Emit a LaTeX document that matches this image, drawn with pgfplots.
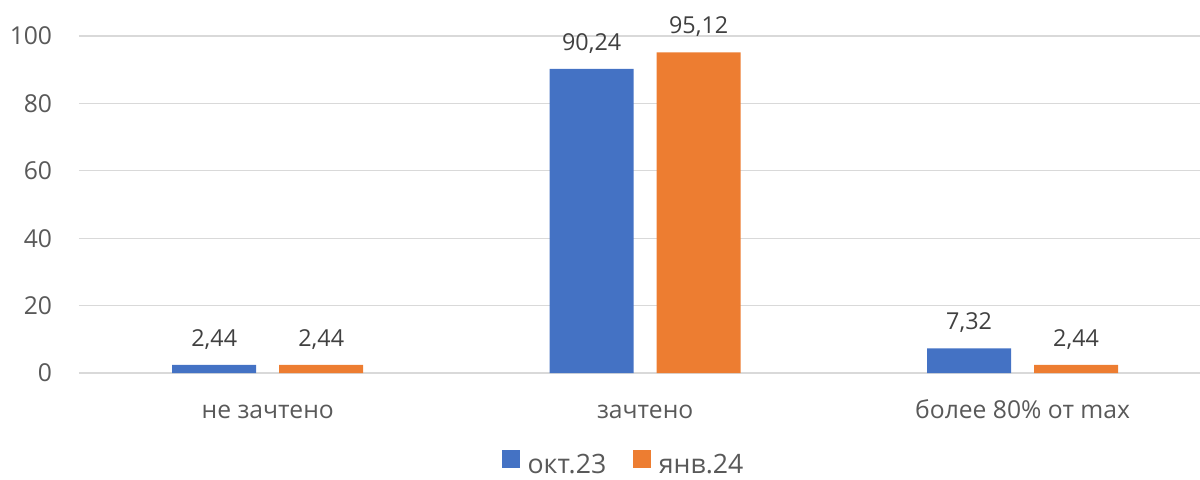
\documentclass[border=0pt]{standalone}
\usepackage{fontspec}
\setmainfont{Open Sans}
\usepackage{pgfplots}
\pgfplotsset{compat=1.18}
\definecolor{cblue}{HTML}{4472C4}
\definecolor{corange}{HTML}{ED7D31}
\definecolor{gridc}{HTML}{D9D9D9}
\definecolor{tickc}{HTML}{595959}
\definecolor{lblc}{HTML}{404040}
\begin{document}
\begin{tikzpicture}
\path[use as bounding box] (-59.25pt,-79.5pt) rectangle (840.75pt,279.75pt);
\begin{axis}[
  at={(0,0)}, anchor=south west,
  scale only axis, width=840.75pt, height=252.75pt,
  xmin=-0.5, xmax=2.47, ymin=0, ymax=100,
  /pgf/number format/assume math mode=true,
  axis line style={draw=none},
  major tick length=0pt,
  ytick={0,20,...,100},
  ymajorgrids, grid style={gridc, line width=1pt},
  xtick={0,1,2},
  xticklabels={не зачтено, зачтено, более 80\% от max},
  ybar=17.25pt, bar width=63pt,
  tick label style={font=\fontsize{18.5}{22}\selectfont, text=tickc},
  yticklabel style={anchor=east, inner sep=0pt, xshift=-20pt},
  xticklabel style={anchor=base, inner sep=0pt, yshift=-33.75pt},
  nodes near coords={\pgfmathprintnumber[fixed, fixed zerofill, precision=2, use comma, assume math mode=true]{\pgfplotspointmeta}},
  every node near coord/.append style={font=\fontsize{17.5}{20}\selectfont, text=lblc, anchor=base, inner sep=0pt, yshift=14pt},
  legend style={draw=none, at={(0.4848,-0.305)}, anchor=south, legend columns=2,
    font=\fontsize{20}{24}\selectfont, text=tickc, inner sep=0pt, nodes={inner sep=0pt},
    /tikz/every odd column/.append style={column sep=6pt},
    /tikz/every even column/.append style={column sep=20pt}},
  legend image code/.code={\fill[#1] (0pt,-2pt) rectangle (13.5pt,11.5pt);},
  clip=false,
]
\addplot[fill=cblue, draw=none] coordinates {(0,2.44) (1,90.24) (2,7.32)};
\addplot[fill=corange, draw=none] coordinates {(0,2.44) (1,95.12) (2,2.44)};
\legend{окт.23, янв.24}
\end{axis}
\end{tikzpicture}
\end{document}
